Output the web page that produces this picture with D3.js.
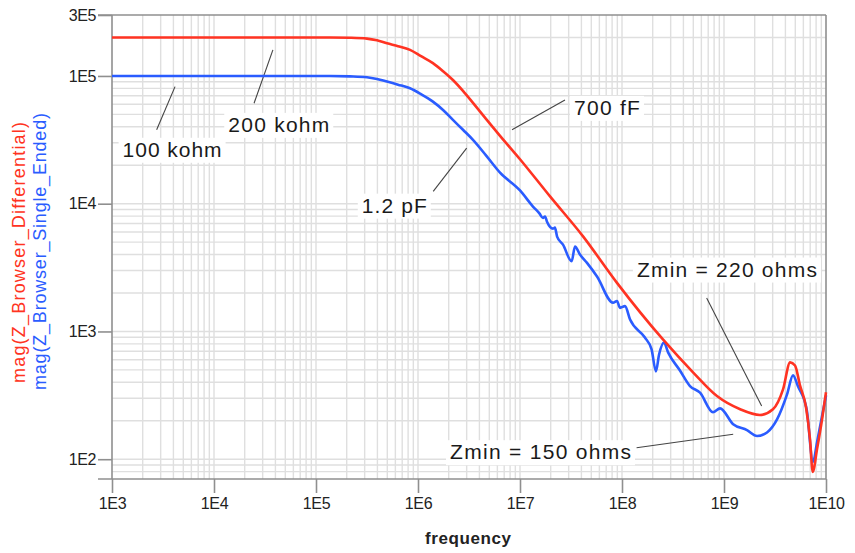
<!DOCTYPE html>
<html><head><meta charset="utf-8">
<script src="https://cdn.jsdelivr.net/npm/d3@7"></script>
<style>
html,body{margin:0;padding:0;background:#fff;}
svg{display:block;font-family:"Liberation Sans",Arial,Helvetica,sans-serif;}
</style></head><body>
<svg id="chart" width="855" height="553"></svg>
<script>
// ---- data ----
const freqDiff = [1e3, 1e4, 1e5, 1.37e5, 2.15e5, 3.16e5, 3.96e5, 4.97e5, 6.37e5, 8.35e5, 1.07e6, 1.4e6, 1.76e6, 2.2e6, 2.76e6, 3.46e6, 4.64e6, 6.37e6, 1e7, 1.97e7, 4.15e7, 8.93e7, 2.52e8, 4.97e8, 8.53e8, 1.44e9, 2.25e9, 3.02e9, 3.79e9, 4.45e9, 4.97e9, 5.56e9, 6.37e9, 6.97e9, 7.41e9, 8.17e9, 9.15e9, 1e10];
const zDiff    = [200e3, 200e3, 200e3, 200e3, 199e3, 196e3, 190e3, 180e3, 171e3, 160e3, 143e3, 126e3, 109e3, 93e3, 76.4e3, 61.5e3, 46.1e3, 34e3, 22.3e3, 11.4e3, 5.55e3, 2.4e3, 866, 479, 312, 246, 222, 246, 352, 573, 542, 378, 255, 143, 79.5, 120, 205, 334];

const freqSingle = [1e3, 1e4, 1e5, 1.37e5, 2.15e5, 3.16e5, 3.96e5, 4.97e5, 6.37e5, 8.35e5, 1.07e6, 1.4e6, 1.76e6, 2.2e6, 2.76e6, 3.46e6, 4.64e6, 6.37e6, 1e7, 1.34e7, 1.55e7, 1.68e7, 1.76e7, 1.84e7, 2.11e7, 2.2e7, 2.31e7, 2.64e7, 3.21e7, 3.46e7, 3.87e7, 4.54e7, 5.69e7, 8.17e7, 8.93e7, 9.56e7, 1.07e8, 1.2e8, 1.67e8, 1.95e8, 2.15e8, 2.31e8, 2.58e8, 2.83e8, 3.7e8, 4.64e8, 5.82e8, 7.8e8, 9.14e8, 1.23e9, 1.68e9, 2.11e9, 2.64e9, 3.31e9, 4.15e9, 4.75e9, 5.31e9, 6.46e9, 7.46e9, 8.17e9, 1e10];
const zSingle    = [100e3, 100e3, 100e3, 100e3, 99.3e3, 97.7e3, 94.7e3, 90.3e3, 85.5e3, 80.1e3, 72.1e3, 63e3, 54.2e3, 45.3e3, 37.9e3, 31.6e3, 23.9e3, 17.5e3, 12.7e3, 9.5e3, 8.4e3, 7.73e3, 7.95e3, 7.23e3, 6.38e3, 6.5e3, 5.53e3, 4.78e3, 3.54e3, 4.63e3, 4.0e3, 3.44e3, 2.69e3, 1.68e3, 1.73e3, 1.53e3, 1.58e3, 1.24e3, 900, 723, 487, 661, 820, 686, 495, 374, 332, 233, 250, 188, 169, 152, 162, 205, 322, 453, 372, 246, 95, 136, 316];

const xTickValues = [1e3, 1e4, 1e5, 1e6, 1e7, 1e8, 1e9, 1e10];
const xTickLabels = ["1E3", "1E4", "1E5", "1E6", "1E7", "1E8", "1E9", "1E10"];
const yTickValues = [1e2, 1e3, 1e4, 1e5, 3e5];
const yTickLabels = ["1E2", "1E3", "1E4", "1E5", "3E5"];
const seriesNames = ["mag(Z_Browser_Differential)", "mag(Z_Browser_Single_Ended)"];
const seriesColors = ["#ff3322", "#2a5cff"];
const xAxisTitle = "frequency";

// annotations: text, text anchor (freq, Z), leader start, leader end (freq, Z)
const annotationTexts = ["100 kohm", "200 kohm", "700 fF", "1.2 pF", "Zmin = 220 ohms", "Zmin = 150 ohms"];
const annotationAt    = [[1.27e3, 23.3e3], [1.38e4, 36.5e3], [3.38e7, 49.6e3], [2.81e5, 8.51e3], [1.40e8, 2.69e3], [2.06e6, 100]];
const leaderFrom      = [[2.74e3, 37.9e3], [2.47e4, 61.2e3], [8.35e6, 37.9e3], [1.41e6, 12.5e3], [6.76e8, 1.83e3], [1.39e8, 123]];
const leaderTo        = [[4.15e3, 82.5e3], [3.78e4, 160e3], [2.76e7, 64.9e3], [3.0e6, 27.2e3], [2.34e9, 261], [1.23e9, 157]];
const annotationWidths = [99, 101, 66, 65, 180, 181];

// ---- layout ----
const W = 855, H = 553;
const M = {left: 112, right: 29, top: 15, bottom: 74};
const svg = d3.select("#chart");
const x = d3.scaleLog().domain([1e3, 1e10]).range([M.left, W - M.right]);
const y = d3.scaleLog().domain([70, 3e5]).range([H - M.bottom, M.top]);
const [x0, x1] = x.range();
const [yb, yt] = y.range();
const frameColor = "#8f8f8f";
const tick = 14;

// grid
const gx = [];
for (let d = 3; d < 10; d++) for (let m = 1; m <= 9; m++) gx.push(m * Math.pow(10, d));
const gy = [70, 80, 90];
for (let d = 2; d < 5; d++) for (let m = 1; m <= 9; m++) gy.push(m * Math.pow(10, d));
gy.push(1e5, 2e5);
const grid = svg.append("g").attr("stroke", "#dfdfdf").attr("stroke-width", 1.4);
grid.selectAll(".gx").data(gx.filter(v => v > 1e3)).join("line")
  .attr("x1", d => x(d)).attr("x2", d => x(d)).attr("y1", yt).attr("y2", yb);
grid.selectAll(".gy").data(gy.filter(v => v > 70)).join("line")
  .attr("x1", x0).attr("x2", x1).attr("y1", d => y(d)).attr("y2", d => y(d));

// annotation backgrounds
const annG = svg.append("g");
annotationTexts.forEach((t, i) => {
  const ax = x(annotationAt[i][0]), ay = y(annotationAt[i][1]);
  annG.append("rect").attr("x", ax - 4).attr("y", ay - 19)
    .attr("width", annotationWidths[i] + 8).attr("height", 25).attr("fill", "#fff");
});

// frame
const frame = svg.append("g").attr("stroke", frameColor).attr("stroke-width", 1.6).attr("fill", "none");
frame.append("line").attr("x1", x0 - tick).attr("x2", x1).attr("y1", yt).attr("y2", yt);
frame.append("line").attr("x1", x0 - tick).attr("x2", x1).attr("y1", yb).attr("y2", yb);
frame.append("line").attr("x1", x0).attr("x2", x0).attr("y1", yt).attr("y2", yb);
frame.append("line").attr("x1", x1).attr("x2", x1).attr("y1", yt).attr("y2", yb);

// axes
const xAxis = d3.axisBottom(x).tickValues(xTickValues)
  .tickFormat((d, i) => xTickLabels[i]).tickSize(tick).tickPadding(5);
const gxA = svg.append("g").attr("transform", `translate(0,${yb})`).call(xAxis);
const yAxis = d3.axisLeft(y).tickValues(yTickValues)
  .tickFormat((d, i) => yTickLabels[i]).tickSize(tick).tickPadding(2);
const gyA = svg.append("g").attr("transform", `translate(${x0},0)`).call(yAxis);
[gxA, gyA].forEach(g => {
  g.select(".domain").remove();
  g.selectAll(".tick line").attr("stroke", frameColor).attr("stroke-width", 1.6);
  g.selectAll(".tick text").attr("fill", "#222").style("font-size", "16px")
    .style("letter-spacing", "-0.4px").style("font-family", '"Liberation Sans",Arial,sans-serif');
});

// curves
const line = d3.line().x(d => x(d[0])).y(d => y(d[1])).curve(d3.curveMonotoneX);
const series = [d3.zip(freqDiff, zDiff), d3.zip(freqSingle, zSingle)];
svg.append("g").selectAll("path").data([series[1], series[0]]).join("path")
  .attr("d", line).attr("fill", "none")
  .attr("stroke", (d, i) => i === 0 ? seriesColors[1] : seriesColors[0])
  .attr("stroke-width", 2.6).attr("stroke-linejoin", "round");

// leaders and annotation texts
annotationTexts.forEach((t, i) => {
  annG.append("line")
    .attr("x1", x(leaderFrom[i][0])).attr("y1", y(leaderFrom[i][1]))
    .attr("x2", x(leaderTo[i][0])).attr("y2", y(leaderTo[i][1]))
    .attr("stroke", "#444").attr("stroke-width", 1.1);
});
const annT = svg.append("g");
annotationTexts.forEach((t, i) => {
  annT.append("text").attr("x", x(annotationAt[i][0])).attr("y", y(annotationAt[i][1]))
    .attr("textLength", annotationWidths[i]).attr("lengthAdjust", "spacing")
    .style("font-size", "21px").attr("fill", "#1a1a1a").text(t);
});

// axis titles
svg.append("text").attr("x", (x0 + x1) / 2 - 1).attr("y", 544)
  .attr("text-anchor", "middle").style("font-size", "17px").style("font-weight", "bold")
  .attr("textLength", 86).attr("lengthAdjust", "spacing")
  .attr("fill", "#222").text(xAxisTitle);
const ylab = [[24.5, 252.5, 261], [45.5, 251.5, 277]];
seriesNames.forEach((n, i) => {
  svg.append("text").attr("transform", `translate(${ylab[i][0]},${ylab[i][1]}) rotate(-90)`)
    .attr("text-anchor", "middle").attr("textLength", ylab[i][2]).attr("lengthAdjust", "spacing")
    .style("font-size", "18px").attr("fill", seriesColors[i]).text(n);
});
</script>
</body></html>
